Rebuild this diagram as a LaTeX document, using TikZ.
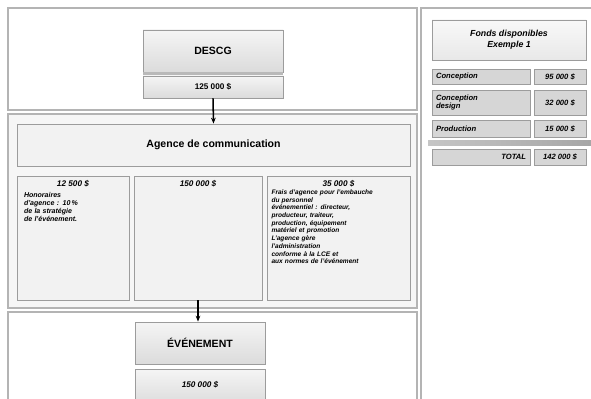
\documentclass[tikz,border=0pt]{standalone}
\usepackage{fontspec}
\setmainfont{Liberation Sans}
\usetikzlibrary{arrows.meta,positioning}
\definecolor{panelline}{HTML}{B4B4B4}
\definecolor{boxline}{HTML}{9C9C9C}
\definecolor{boxfill}{HTML}{F2F2F2}
\definecolor{rowfill}{HTML}{D6D6D6}

\begin{document}
\begin{tikzpicture}[x=0.03cm, y=-0.03cm,
    panel/.style={draw=panelline, line width=1.2pt},
    grad/.style={draw=boxline, line width=0.8pt, top color=gray!8, bottom color=gray!28,
      inner sep=2pt, align=center},
    plain/.style={draw=boxline, line width=0.8pt, fill=boxfill, inner sep=2pt, align=center},
    row/.style={draw=boxline, line width=0.8pt, fill=rowfill, inner sep=2pt,
      font=\fontsize{6.5}{7}\selectfont\bfseries\itshape},
    arr/.style={-{Stealth[length=5pt,width=4pt]}, line width=1.3pt}]
    \useasboundingbox (0,0) rectangle (591,399);
    \fill[white] (0,0) rectangle (591,399);

    % Panels
    \draw[panel] (8,8) rectangle (417,110);
    \draw[panel, fill=gray!7] (8,114) rectangle (417,308);
    \draw[panel] (8,312) rectangle (417,405);
    \draw[panel] (421,8) rectangle (597,405);

    % Top: funding body
    \node[grad, minimum width=140*0.03cm, minimum height=42*0.03cm,
      font=\fontsize{9}{10}\selectfont\bfseries] (descg) at (213,51) {DESCG};
    \fill[gray!55] (143,72) rectangle (283,76);
    \node[grad, minimum width=140*0.03cm, minimum height=22*0.03cm,
      font=\fontsize{7}{8}\selectfont\bfseries] (amt1) at (213,87) {125 000 \$};

    % Middle: agency and its three parts
    \node[plain, minimum width=393*0.03cm, minimum height=42*0.03cm,
      font=\fontsize{9}{10}\selectfont\bfseries] (agence) at (213.5,145) {Agence de communication};
    \node[plain, minimum width=112*0.03cm, minimum height=124*0.03cm] (col1) at (73,238) {};
    \node[plain, minimum width=128*0.03cm, minimum height=124*0.03cm] (col2) at (198,238) {};
    \node[plain, minimum width=143*0.03cm, minimum height=124*0.03cm] (col3) at (338.5,238) {};

    \node[below=2pt of col1.north, text width=98*0.03cm, align=left, inner sep=2pt,
      font=\fontsize{6}{7}\selectfont\bfseries\itshape] (txt1) {%
      \centering\fontsize{7}{8}\selectfont 12 500 \$\par\vspace{2pt}
      \raggedright\fontsize{6}{7}\selectfont Honoraires\\d'agence : 10\,\%\\de la stratégie\\de l'événement.};
    \node[below=2pt of col2.north, inner sep=2pt,
      font=\fontsize{7}{8}\selectfont\bfseries\itshape] (txt2) {150 000 \$};
    \node[below=2pt of col3.north, text width=134*0.03cm, align=left, inner sep=2pt,
      font=\fontsize{5.6}{6.6}\selectfont\bfseries\itshape] (txt3) {%
      \centering{\fontsize{7}{8}\selectfont 35 000 \$}\par
      \raggedright Frais d'agence pour l'embauche\\du personnel\\événementiel : directeur,\\producteur, traiteur,\\production, équipement\\matériel et promotion\\
      L'agence gère\\l'administration\\conforme à la LCE et\\aux normes de l'événement};

    % Bottom: event
    \node[grad, minimum width=130*0.03cm, minimum height=42*0.03cm,
      font=\fontsize{9}{10}\selectfont\bfseries] (evt) at (200,343) {ÉVÉNEMENT};
    \node[grad, minimum width=130*0.03cm, minimum height=36*0.03cm, anchor=north,
      font=\fontsize{7}{8}\selectfont\bfseries] (amt2) at (200,369) {};
    \node[font=\fontsize{7}{8}\selectfont\bfseries\itshape] (amt2txt) at (200,385) {150 000 \$};

    % Connectors
    \draw[arr] (amt1.south) -- (agence.north);
    \draw[arr] (col2.south) -- (col2.south |- evt.north);

    % Right: budget table
    \node[grad, minimum width=154*0.03cm, minimum height=40*0.03cm, top color=gray!5, bottom color=gray!18,
      font=\fontsize{7.5}{9}\selectfont\bfseries\itshape] (titre) at (509,40) {Fonds disponibles\\Exemple 1};
    \node[row, minimum width=98*0.03cm, minimum height=15*0.03cm, text width=90*0.03cm,
      align=left] (lab1) at (481,76.5) {Conception};
    \node[row, minimum width=52*0.03cm, minimum height=15*0.03cm] (val1) at (560,76.5) {95 000 \$};
    \node[row, minimum width=98*0.03cm, minimum height=25*0.03cm, text width=90*0.03cm,
      align=left] (lab2) at (481,102.5) {Conception\\design};
    \node[row, minimum width=52*0.03cm, minimum height=25*0.03cm] (val2) at (560,102.5) {32 000 \$};
    \node[row, minimum width=98*0.03cm, minimum height=17*0.03cm, text width=90*0.03cm,
      align=left] (lab3) at (481,128.5) {Production};
    \node[row, minimum width=52*0.03cm, minimum height=17*0.03cm] (val3) at (560,128.5) {15 000 \$};
    \shade[left color=gray!45, right color=gray!70] (428,141) rectangle (591,146);
    \node[row, minimum width=98*0.03cm, minimum height=16*0.03cm, text width=90*0.03cm,
      align=right] (labt) at (481,157) {TOTAL};
    \node[row, minimum width=52*0.03cm, minimum height=16*0.03cm] (valt) at (560,157) {142 000 \$};
\end{tikzpicture}
\end{document}
